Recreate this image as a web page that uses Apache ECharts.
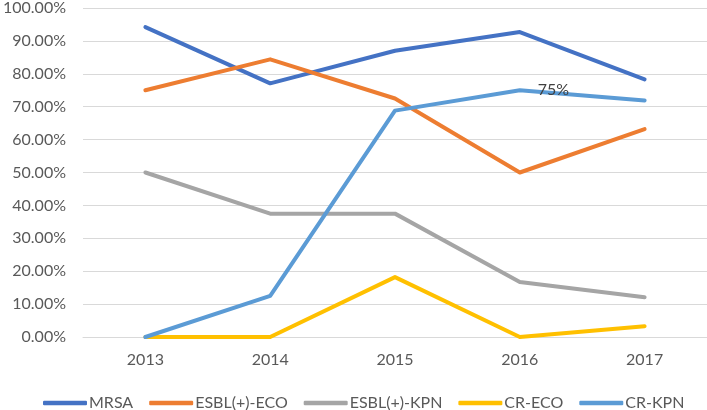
<!DOCTYPE html>
<html>
<head>
<meta charset="utf-8">
<script src="https://cdn.jsdelivr.net/npm/echarts@6/dist/echarts.min.js"></script>
<style>
  html, body { margin: 0; padding: 0; background: #fff; }
  #chart { width: 707px; height: 410px; }
</style>
</head>
<body>
<div id="chart"></div>
<script>
const years = ["2013", "2014", "2015", "2016", "2017"];
const yTicks = [0, 10, 20, 30, 40, 50, 60, 70, 80, 90, 100];

// rates in percent
const mrsa = [94.2, 77.1, 87.0, 92.7, 78.3];
const esblEco = [75.0, 84.4, 72.5, 50.0, 63.2];
const esblKpn = [50.0, 37.5, 37.5, 16.7, 12.1];
const crEco = [0, 0, 18.2, 0, 3.3];
const crKpn = [0, 12.5, 68.8, 75.0, 71.9];

const labelledIndex = 3; // "75%" on CR-KPN 2016

const font = "Lato, 'Open Sans', sans-serif";

function makeSeries(name, values, color, withLabel) {
  return {
    name: name,
    type: "line",
    data: values.map((v, i) => {
      if (withLabel && i === labelledIndex) {
        return {
          value: v,
          label: {
            show: true,
            position: "right",
            distance: 18,
            formatter: v + "%",
            color: "#404040",
            fontSize: 16,
            fontFamily: font,
          },
        };
      }
      return v;
    }),
    symbol: "circle",
    symbolSize: 0,
    showSymbol: true,
    lineStyle: { color: color, width: 4, cap: "round", join: "round" },
    itemStyle: { color: color },
    emphasis: { disabled: true },
    animation: false,
  };
}

const chart = echarts.init(document.getElementById("chart"));
chart.setOption({
  textStyle: { fontFamily: font },
  grid: { left: 80, right: 0, top: 6, bottom: 73 },
  legend: {
    left: 38,
    top: 390,
    icon: "roundRect",
    itemWidth: 44,
    itemHeight: 4.5,
    itemGap: 16,
    textStyle: { color: "#595959", fontSize: 16, fontFamily: font, padding: [0, 0, 0, -3] },
    data: ["MRSA", "ESBL(+)-ECO", "ESBL(+)-KPN", "CR-ECO", "CR-KPN"],
  },
  xAxis: {
    type: "category",
    data: years,
    boundaryGap: true,
    axisLine: { lineStyle: { color: "#d9d9d9", width: 1 } },
    axisTick: { show: false },
    axisLabel: { color: "#595959", fontSize: 16, fontFamily: font, margin: 15 },
  },
  yAxis: {
    type: "value",
    min: yTicks[0],
    max: yTicks[yTicks.length - 1],
    interval: 10,
    axisLine: { show: false },
    axisTick: { show: false },
    axisLabel: {
      color: "#595959",
      fontSize: 16,
      fontFamily: font,
      margin: 17,
      formatter: (v) => v.toFixed(2) + "%",
    },
    splitLine: { lineStyle: { color: "#d9d9d9", width: 1 } },
  },
  series: [
    makeSeries("MRSA", mrsa, "#4472C4"),
    makeSeries("ESBL(+)-ECO", esblEco, "#ED7D31"),
    makeSeries("ESBL(+)-KPN", esblKpn, "#A5A5A5"),
    makeSeries("CR-ECO", crEco, "#FFC000"),
    makeSeries("CR-KPN", crKpn, "#5B9BD5", true),
  ],
});
</script>
</body>
</html>
